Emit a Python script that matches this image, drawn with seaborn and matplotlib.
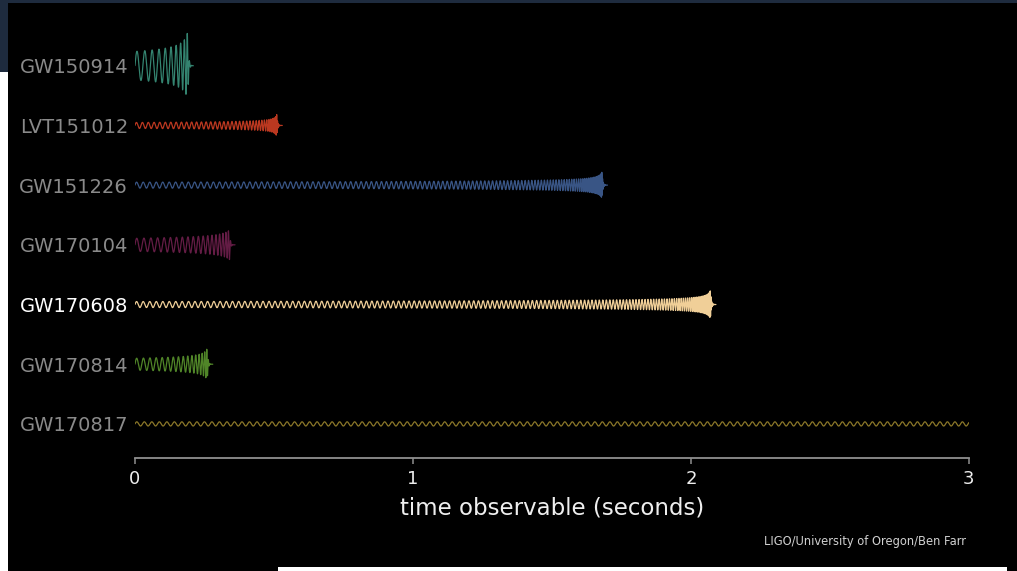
import numpy as np
import pandas as pd
import matplotlib
matplotlib.use("Agg")
import matplotlib.pyplot as plt
from matplotlib.patches import Rectangle
import seaborn as sns

# Detected events, top to bottom
events = ["GW150914", "LVT151012", "GW151226", "GW170104", "GW170608", "GW170814", "GW170817"]
colors = ["#348470", "#bb3820", "#395585", "#641c45", "#f0cf98", "#508528", "#8c7829"]
# time of peak amplitude after the signal enters the band (s)
peak_times = [0.19, 0.51, 1.68, 0.34, 2.07, 0.26, 60.0]
# frequency when the signal enters the band (Hz)
start_freqs = [34.0, 46.0, 42.0, 38.0, 42.0, 40.0, 37.0]
# strain amplitude at entry and at peak, in units of row spacing
start_amps = [0.24, 0.05, 0.05, 0.11, 0.05, 0.10, 0.035]
peak_amps = [0.58, 0.185, 0.22, 0.25, 0.235, 0.27, 0.036]
highlight = "GW170608"

x_ticks = [0, 1, 2, 3]
x_max = 3.0
ringdown_tau = 0.003
ringdown_len = 0.02
dt = 5e-5


def chirp(tp, f0, a0, ap):
    """Inspiral chirp reaching its peak at tp, followed by a short ringdown."""
    fmax = f0 * (ap / a0) ** 1.5
    tc = tp / (1.0 - (f0 / fmax) ** (8.0 / 3.0))
    t_end = min(tp + ringdown_len, x_max)
    t = np.arange(0.0, t_end, dt)
    insp = t <= tp
    f = np.empty_like(t)
    a = np.empty_like(t)
    f[insp] = f0 * (1.0 - t[insp] / tc) ** (-3.0 / 8.0)
    a[insp] = a0 * (f[insp] / f0) ** (2.0 / 3.0)
    f[~insp] = fmax
    a[~insp] = ap * np.exp(-(t[~insp] - tp) / ringdown_tau)
    phase = 2 * np.pi * np.cumsum(f) * dt
    return t, a * np.sin(phase)


frames = []
for i, name in enumerate(events):
    t, h = chirp(peak_times[i], start_freqs[i], start_amps[i], peak_amps[i])
    frames.append(pd.DataFrame({"t": t, "y": i - h, "event": name}))
df = pd.concat(frames, ignore_index=True)

sns.set_theme(style="dark")
plt.rcParams.update({
    "font.family": ["DejaVu Sans"],
    "figure.facecolor": "black",
    "axes.facecolor": "black",
    "savefig.facecolor": "black",
})

fig = plt.figure(figsize=(10.17, 5.71), dpi=100)
ax = fig.add_axes([0.1327, 0.198, 0.820, 0.7496])

sns.lineplot(data=df, x="t", y="y", hue="event", palette=dict(zip(events, colors)),
             estimator=None, sort=False, legend=False, linewidth=0.9, ax=ax)

ax.set_xlim(0, x_max)
ax.set_ylim(6.57, -0.6)
ax.grid(False)

for side in ["top", "right", "left"]:
    ax.spines[side].set_visible(False)
ax.spines["bottom"].set_visible(True)
ax.spines["bottom"].set_color("#8f8f8f")
ax.spines["bottom"].set_linewidth(1.3)
ax.spines["bottom"].set_bounds(0, x_max)

ax.set_xticks(x_ticks)
ax.set_xticklabels([str(v) for v in x_ticks])
ax.tick_params(axis="x", bottom=True, direction="out", length=4.5, width=1.1,
               color="#8f8f8f", labelcolor="#eeeeee", labelsize=13, pad=4)
ax.set_xlabel("time observable (seconds)", color="#eeeeee", fontsize=16.5, labelpad=6)

ax.set_yticks(range(len(events)))
ax.set_yticklabels(events)
ax.tick_params(axis="y", left=False, length=0, labelsize=14, pad=5)
for lab in ax.get_yticklabels():
    lab.set_color("#ffffff" if lab.get_text() == highlight else "#8a8a8a")
ax.set_ylabel("")

fig.text(0.9503, 0.0525, "LIGO/University of Oregon/Ben Farr", color="#d0d0d0",
         fontsize=8.3, ha="right", va="center")

# Frame strips around the plotting canvas
W, H = 1017.0, 571.0
def strip(x0, y0, x1, y1, c):
    fig.patches.append(Rectangle((x0 / W, 1 - y1 / H), (x1 - x0) / W, (y1 - y0) / H,
                                 transform=fig.transFigure, color=c, zorder=-1, lw=0))
strip(0, 0, W, 3, "#1e2b3e")
strip(0, 0, 8, 72, "#1e2b3e")
strip(0, 72, 8, H, "#ffffff")
strip(278, 567, 1007, H, "#ffffff")

fig.savefig("out.png", dpi=100)
